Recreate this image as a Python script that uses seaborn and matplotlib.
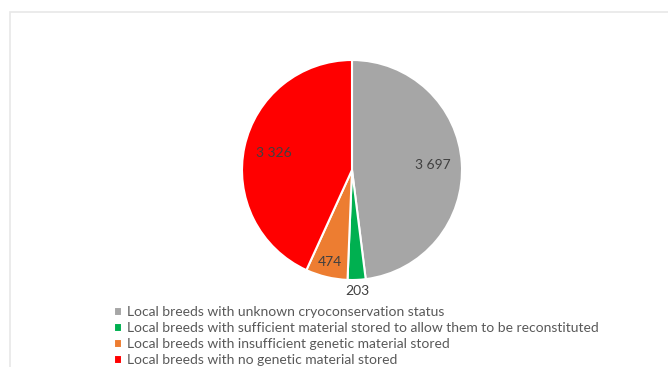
import numpy as np
import matplotlib
matplotlib.use("Agg")
import matplotlib.pyplot as plt
import seaborn as sns
from matplotlib.patches import Rectangle

sns.set_theme(style="white")
plt.rcParams['font.family'] = ['Lato', 'DejaVu Sans']

categories = [
    "Local breeds with unknown cryoconservation status",
    "Local breeds with sufficient material stored to allow them to be reconstituted",
    "Local breeds with insufficient genetic material stored",
    "Local breeds with no genetic material stored",
]
values = [3697, 203, 474, 3326]
value_labels = ["3 697", "203", "474", "3 326"]
colors = ["#a6a6a6", "#00b050", "#ed7d31", "#ff0000"]
label_radius = [0.74, 1.10, 0.86, 0.73]

fig = plt.figure(figsize=(6.68, 3.67), dpi=100)
fig.patches.append(Rectangle((10/668, -0.1), 1, 1.1 - 12/367, transform=fig.transFigure,
                             fill=False, edgecolor="#e8e8e8", linewidth=1.2))

ax = fig.add_axes([(352-110)/668, (367-280)/367, 220/668, 220/367])
wedges, _ = ax.pie(values, colors=colors, startangle=90, counterclock=False,
                   wedgeprops=dict(edgecolor="white", linewidth=1.5))
for w, lab, r in zip(wedges, value_labels, label_radius):
    ang = np.deg2rad((w.theta1 + w.theta2) / 2)
    ax.text(r*np.cos(ang), r*np.sin(ang), lab, ha="center", va="center",
            fontsize=10, color="#404040")
ax.set_xlim(-1.0, 1.0)
ax.set_ylim(-1.0, 1.0)
ax.set_aspect("equal")
ax.axis("off")

fig.legend(wedges, categories, loc="upper left", bbox_to_anchor=(114/668, 1 - 306/367),
           frameon=False, fontsize=10, labelcolor="#595959",
           handlelength=0.6, handleheight=0.6, handletextpad=0.3,
           labelspacing=0.3, borderaxespad=0, borderpad=0)

fig.savefig("out.png", dpi=100)
